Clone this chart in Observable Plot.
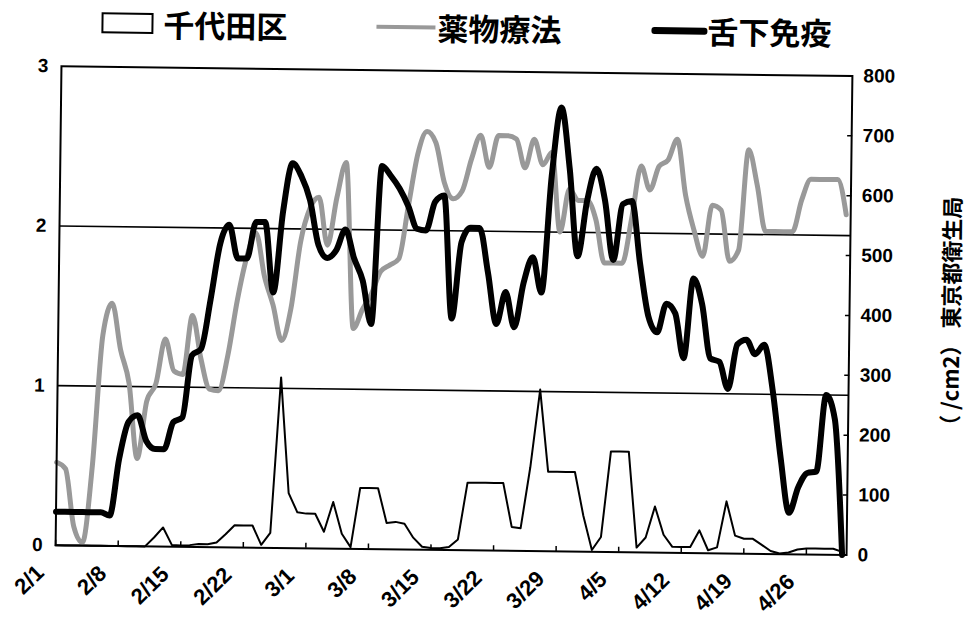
<!DOCTYPE html>
<html>
<head>
<meta charset="utf-8">
<script src="https://cdn.jsdelivr.net/npm/d3@7"></script>
<script src="https://cdn.jsdelivr.net/npm/@observablehq/plot@0.6"></script>
<style>
  html, body { margin: 0; padding: 0; background: #fff; }
  #wrap { position: relative; width: 968px; height: 622px; overflow: hidden; transform: rotate(0.7deg); transform-origin: 484px 311px; }
  #legend { position: absolute; left: 0; top: 0; width: 968px; height: 50px; font-family: "Noto Sans CJK JP", sans-serif; font-weight: 700; }
  .lt { position: absolute; top: 8px; font-size: 31px; line-height: 40px; color: #000; }
  .sw { position: absolute; }
  #chart { position: absolute; left: 0; top: 50px; }
</style>
</head>
<body>
<div id="wrap">
  <div id="legend"></div>
  <div id="chart"></div>
</div>
<script>
// ---- data (daily, 2/1 .. 4/30) ----
const seriesNames = ["千代田区", "薬物療法", "舌下免疫"];
// 千代田区 pollen count (/cm2, right axis)
const chiyoda = [0,0,0,0,0,0,0,0,0,0,0,15,32,3,2,3,5,5,8,22,37,37,37,5,25,285,92,60,58,58,28,78,25,3,102,102,102,44,46,43,20,5,3,3,5,18,113,113,113,113,113,40,38,140,270,133,133,133,133,60,3,25,168,168,168,8,25,77,30,10,10,10,38,5,10,87,30,25,25,15,5,1,3,8,10,10,10,10,5];
// 薬物療法 symptom score (left axis)
const drug = [0.52,0.48,0.12,0.02,0.5,1.32,1.52,1.23,1.02,0.55,0.91,1.02,1.3,1.1,1.08,1.45,1.18,0.99,0.98,1.2,1.55,1.82,1.97,1.7,1.52,1.3,1.5,1.92,2.13,2.2,1.9,2.2,2.42,1.38,1.5,1.6,1.74,1.78,1.82,2.15,2.48,2.62,2.55,2.3,2.2,2.25,2.45,2.6,2.4,2.6,2.6,2.58,2.4,2.58,2.42,2.5,2.0,2.27,2.2,2.2,2.08,1.81,1.81,1.81,2.09,2.42,2.27,2.42,2.46,2.59,2.24,2.02,1.86,2.18,2.15,1.83,1.9,2.53,2.31,2.02,2.02,2.02,2.02,2.22,2.35,2.35,2.35,2.35,2.13];
// 舌下免疫 symptom score (left axis)
const slit = [0.21,0.21,0.21,0.21,0.21,0.21,0.19,0.55,0.78,0.82,0.66,0.61,0.61,0.78,0.81,1.2,1.24,1.55,1.9,2.02,1.81,1.81,2.04,2.04,1.6,2.11,2.41,2.33,2.18,1.9,1.82,1.87,2.0,1.82,1.68,1.41,2.4,2.34,2.26,2.15,2.01,2.0,2.18,2.22,1.45,1.93,2.02,2.02,1.74,1.42,1.62,1.4,1.68,1.84,1.62,2.35,2.78,2.4,1.85,2.2,2.4,2.2,1.83,2.18,2.2,1.81,1.48,1.38,1.56,1.5,1.22,1.72,1.56,1.22,1.2,1.03,1.31,1.34,1.25,1.31,1.03,0.6,0.26,0.42,0.51,0.52,1.0,0.85,0.0];

const xTickDays = [0,7,14,21,28,35,42,49,56,63,70,77,84];
const xTickLabels = ["2/1","2/8","2/15","2/22","3/1","3/8","3/15","3/22","3/29","4/5","4/12","4/19","4/26"];
const leftTicks = [0,1,2,3];
const rightTicks = [0,100,200,300,400,500,600,700,800];
const gridValues = [1,2];
const rightTitle = "（ /cm2） 東京都衛生局";

const leftMax = 3, rightMax = 800;
const ratio = rightMax / leftMax;

const rows = slit.map((v, i) => ({day: i, pollen: chiyoda[i] / ratio, drug: drug[i], slit: v}));

const numFont = "Liberation Sans, Arial, sans-serif";

const chart = Plot.plot({
  width: 968,
  height: 572,
  marginTop: 21,
  marginBottom: 72,
  marginLeft: 58,
  marginRight: 119,
  style: {fontFamily: numFont, background: "transparent"},
  x: {domain: [0, 88.5], axis: null},
  y: {domain: [0, leftMax], axis: null},
  marks: [
    Plot.ruleY(gridValues, {stroke: "#000", strokeWidth: 1.6}),
    Plot.line(rows, {x: "day", y: "pollen", stroke: "#000", strokeWidth: 2}),
    Plot.line(rows, {x: "day", y: "drug", stroke: "#999", strokeWidth: 5, curve: "monotone-x"}),
    Plot.line(rows, {x: "day", y: "slit", stroke: "#000", strokeWidth: 6, curve: "monotone-x"}),
    Plot.frame({stroke: "#000", strokeWidth: 2}),
    Plot.axisY(leftTicks, {anchor: "left", tickSize: 0, tickPadding: 13, tickFormat: d => String(d), fontSize: 19, fontWeight: "bold", fontFamily: numFont, fill: "#000"}),
    Plot.axisY(rightTicks.map(p => p / ratio), {anchor: "right", tickSize: -5, fill: "none", stroke: "#000", strokeWidth: 1.5}),
    Plot.axisY(rightTicks.map(p => p / ratio), {anchor: "right", tickSize: 0, tickPadding: 11, tickFormat: v => String(Math.round(v * ratio)), fontSize: 19, fontWeight: "bold", fontFamily: numFont, fill: "#000"}),
    Plot.axisX(xTickDays, {anchor: "bottom", tickSize: -5, fill: "none", stroke: "#000", strokeWidth: 1.5}),
    Plot.text(xTickDays, {x: d => d, y: 0, text: (d, i) => xTickLabels[i], rotate: -45, textAnchor: "end", dx: -15, dy: 24, fontSize: 22, fontWeight: "bold", fontFamily: numFont, fill: "#000"}),
    Plot.text([rightTitle], {frameAnchor: "right", textAnchor: "middle", dx: 103, rotate: -90, fontSize: 22, fontWeight: "bold", fontFamily: "Noto Sans CJK JP, sans-serif", fill: "#000"})
  ]
});
document.getElementById("chart").appendChild(chart);

// ---- legend ----
const legend = document.getElementById("legend");
const legendItems = [
  {name: seriesNames[0], sw: {left: 98, top: 17, width: 48, height: 17, border: "2px solid #000", background: "#fff"}, textLeft: 160},
  {name: seriesNames[1], sw: {left: 373, top: 26, width: 59, height: 4, background: "#999"}, textLeft: 434},
  {name: seriesNames[2], sw: {left: 648, top: 25, width: 56, height: 7, background: "#000", borderRadius: "3px"}, textLeft: 704}
];
for (const it of legendItems) {
  const s = document.createElement("div");
  s.className = "sw";
  for (const [k, v] of Object.entries(it.sw)) s.style[k] = typeof v === "number" ? v + "px" : v;
  legend.appendChild(s);
  const t = document.createElement("div");
  t.className = "lt";
  t.style.left = it.textLeft + "px";
  t.textContent = it.name;
  legend.appendChild(t);
}
</script>
</body>
</html>
